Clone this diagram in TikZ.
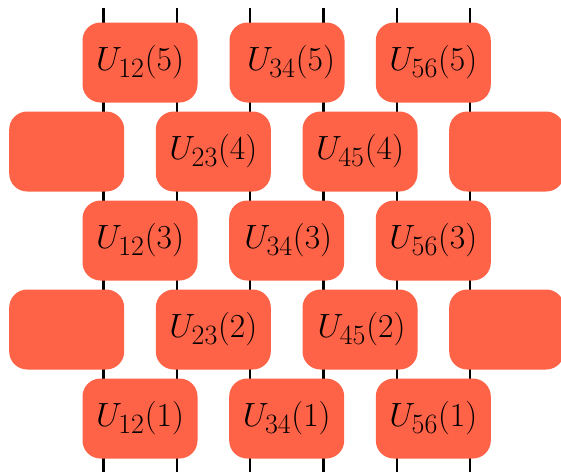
\documentclass[tikz,border=0pt]{standalone}
\usepackage{graphicx}
\definecolor{tomato}{RGB}{255,99,71}
\newcommand{\glab}[2]{\scalebox{1.35}{\Huge$U_{#1}(#2)$}}
\begin{document}
\begin{tikzpicture}[x=1pt,y=1pt,
  gate/.style={rectangle,rounded corners=18pt,minimum width=115pt,minimum height=80pt,inner sep=0pt,fill=tomato},
  wire/.style={line width=2.4pt,black}]
\useasboundingbox (0,0) rectangle (561,-471);
% wire end points
\foreach \i in {1,...,6}{
  \coordinate (t\i) at ({103.5+73.33*(\i-1)},-8);
  \coordinate (b\i) at ({103.5+73.33*(\i-1)},-475);
}
\foreach \i in {1,...,6}{\draw[wire] (t\i) -- (b\i);}
% row 5
\node[gate] (g125) at (140,-62.5) {\glab{12}{5}};
\node[gate] (g345) at (287,-62.5) {\hspace*{8pt}\glab{34}{5}};
\node[gate] (g565) at (433.3,-62.5) {\glab{56}{5}};
% row 4
\node[gate] (l4) at (66.7,-151.5) {};
\node[gate] (g234) at (213.3,-151.5) {\glab{23}{4}};
\node[gate] (g454) at (360,-151.5) {\glab{45}{4}};
\node[gate] (r4) at (506.7,-151.5) {};
% row 3
\node[gate] (g123) at (140,-240.5) {\glab{12}{3}};
\node[gate] (g343) at (286.7,-240.5) {\hspace*{3pt}\glab{34}{3}};
\node[gate] (g563) at (433.3,-240.5) {\glab{56}{3}};
% row 2
\node[gate] (l2) at (66.7,-329.5) {};
\node[gate] (g232) at (213.3,-329.5) {\glab{23}{2}};
\node[gate] (g452) at (360,-329.5) {\hspace*{3pt}\glab{45}{2}};
\node[gate] (r2) at (506.7,-329.5) {};
% row 1
\node[gate] (g121) at (140,-418.5) {\glab{12}{1}};
\node[gate] (g341) at (286.7,-418.5) {\glab{34}{1}};
\node[gate] (g561) at (433.3,-418.5) {\glab{56}{1}};
\end{tikzpicture}
\end{document}
